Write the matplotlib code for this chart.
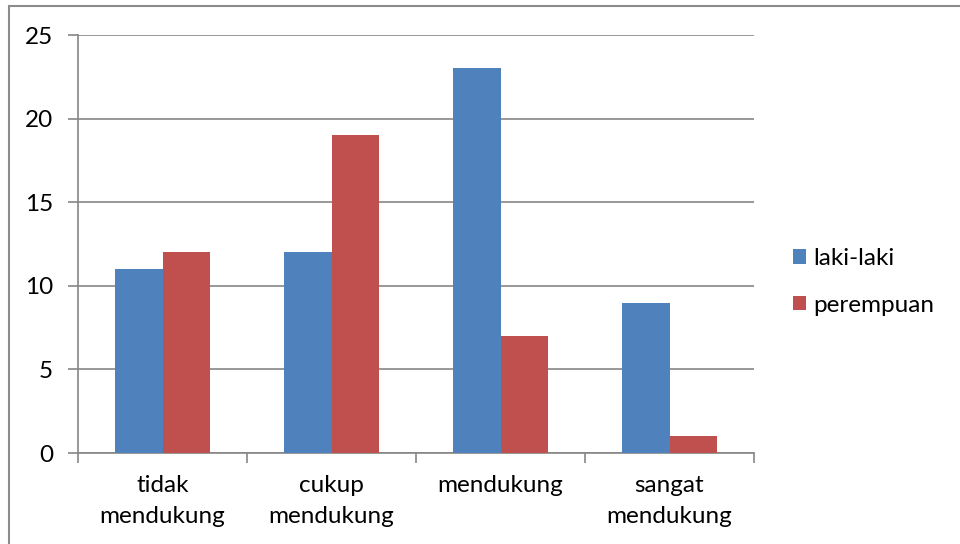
import matplotlib
matplotlib.use("Agg")
import matplotlib.pyplot as plt
from matplotlib.patches import Rectangle
import numpy as np

categories = ["tidak\nmendukung", "cukup\nmendukung", "mendukung", "sangat\nmendukung"]
laki_laki = [11, 12, 23, 9]
perempuan = [12, 19, 7, 1]
series_names = ["laki-laki", "perempuan"]
y_ticks = [0, 5, 10, 15, 20, 25]

plt.rcParams['font.family'] = ['Lato', 'DejaVu Sans']
FS = 17.5

W, H = 960, 544
fig = plt.figure(figsize=(W / 100, H / 100), dpi=100)
ax = fig.add_axes([78 / W, 1 - 453 / H, (754 - 78) / W, (453 - 35) / H])

blue = "#4F81BD"
red = "#C0504D"
grid_c = "#868686"

x = np.arange(len(categories))
bw = 0.284
ax.bar(x - bw / 2, laki_laki, width=bw, color=blue, label=series_names[0], zorder=3)
ax.bar(x + bw / 2, perempuan, width=bw, color=red, label=series_names[1], zorder=3)

ax.set_xlim(-0.5, len(categories) - 0.5)
ax.set_ylim(0, 25)
ax.set_yticks(y_ticks)
ax.set_yticklabels([str(v) for v in y_ticks], fontsize=FS)
ax.yaxis.grid(True, color=grid_c, linewidth=1.2, zorder=0)
ax.tick_params(axis='y', length=7, width=1.2, color=grid_c, pad=11, labelcolor="black")

# category labels centred, ticks at group boundaries
ax.set_xticks(x)
ax.set_xticklabels(categories, fontsize=FS)
ax.tick_params(axis='x', length=0, pad=16, labelcolor="black")
ax.set_xticks(np.arange(len(categories) + 1) - 0.5, minor=True)
ax.tick_params(axis='x', which='minor', length=7, width=1.2, color=grid_c)

for s in ["top", "right"]:
    ax.spines[s].set_visible(False)
for s in ["left", "bottom"]:
    ax.spines[s].set_color(grid_c)
    ax.spines[s].set_linewidth(1.2)

leg = fig.legend(loc="center left", bbox_to_anchor=(793 / W, 1 - 282 / H),
                 frameon=False, fontsize=FS, handlelength=0.55, handleheight=0.55,
                 handletextpad=0.3, labelspacing=1.05, borderpad=0, borderaxespad=0)

# outer chart border
fig.patches.append(Rectangle((9 / W, -10 / H), (W + 10) / W, (H + 4) / H,
                             transform=fig.transFigure, fill=False,
                             edgecolor="#8c8c8c", linewidth=1.5))

fig.canvas.draw()
for lbl in ax.get_xticklabels():
    lbl.set_linespacing(1.6)

fig.savefig("out.png", dpi=100)
